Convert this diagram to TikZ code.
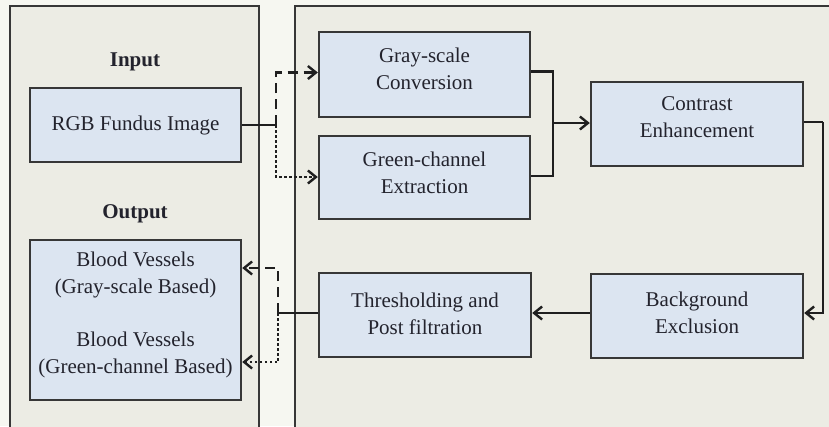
\documentclass[tikz,border=0pt]{standalone}
\usepackage{fontspec}
\setmainfont{Liberation Serif}
\usetikzlibrary{arrows.meta}
\definecolor{pagebg}{RGB}{246,247,241}
\definecolor{panelbg}{RGB}{236,236,228}
\definecolor{boxfill}{RGB}{220,229,241}
\definecolor{boxline}{RGB}{55,55,55}
\definecolor{txt}{RGB}{35,35,45}
\begin{document}
\begin{tikzpicture}[x=1pt,y=-1pt,
  panel/.style={fill=panelbg,draw=boxline,line width=2.2pt},
  box/.style={draw=boxline,fill=boxfill,line width=2.4pt,minimum width=211pt,inner sep=0pt},
  lbl/.style={text=txt,align=center,font=\fontsize{21}{27}\selectfont,inner sep=0pt},
  head/.style={text=txt,font=\fontsize{21}{27}\selectfont\bfseries,inner sep=0pt},
  conn/.style={draw=black!88,line width=2.6pt},
  arr/.style={conn,-{Straight Barb[length=8pt,width=13pt,line width=2.4pt]}},
  dashline/.style={dash pattern=on 10pt off 6pt},
  dotline/.style={dash pattern=on 2.5pt off 2.5pt}
]
\clip (0,0) rectangle (829,426);
\useasboundingbox (0,0) rectangle (829,426);
\fill[pagebg] (0,0) rectangle (829,426);
\draw[panel] (10,6) rectangle (259,440);
\draw[panel] (295,6) rectangle (850,440);

% left panel
\node[head] (inlbl) at (135,62) {Input};
\node[head] (outlbl) at (135,214) {Output};
\node[box,minimum height=74pt] (rgb) at (135.5,125) {};
\node[lbl] (rgbt) at (135.5,125) {RGB Fundus Image};
\node[box,minimum height=160pt] (out) at (135.5,320) {};
\node[lbl] (outt1) at (135.5,275) {Blood Vessels\\(Gray-scale Based)};
\node[lbl] (outt2) at (135.5,355) {Blood Vessels\\(Green-channel Based)};

% right panel
\node[box,minimum height=85pt] (gray) at (424.5,74.5) {};
\node[lbl] (grayt) at (424.5,68.5) {Gray-scale\\Conversion};
\node[box,minimum height=83pt] (green) at (424.5,177.5) {};
\node[lbl] (greent) at (424.5,172.5) {Green-channel\\Extraction};
\node[box,minimum width=212pt,minimum height=84pt] (contrast) at (697,124) {};
\node[lbl] (contrastt) at (697,117.5) {Contrast\\Enhancement};
\node[box,minimum width=212pt,minimum height=84pt] (backg) at (697,316) {};
\node[lbl] (backgt) at (697,313) {Background\\Exclusion};
\node[box,minimum width=212pt,minimum height=84pt] (thresh) at (425,315) {};
\node[lbl] (thresht) at (425,313.5) {Thresholding and\\Post filtration};

% connectors
\coordinate (j1) at (276,125);
\coordinate (m) at (553,123);
\coordinate (r) at (823,122);
\coordinate (j2) at (278,313);
\draw[conn] (rgb.east) -- (j1);
\draw[arr,dashline] (j1) |- ([yshift=2pt]gray.west);
\draw[arr,dotline] (j1) |- ([yshift=0.5pt]green.west);
\draw[conn] ([yshift=3pt]gray.east) -| (m) |- ([yshift=1.5pt]green.east);
\draw[arr] (m) -- (contrast.west |- m);
\draw[conn] (contrast.east |- r) -- (r);
\draw[arr] (r) |- ([yshift=3pt]backg.east);
\draw[arr] ([yshift=3pt]backg.west) -- ([yshift=2pt]thresh.east);
\draw[conn] ([yshift=2pt]thresh.west) -- (j2);
\draw[arr,dashline] (j2) |- ([yshift=52pt]out.east);
\draw[arr,dotline] (j2) |- ([yshift=-42pt]out.east);
\end{tikzpicture}
\end{document}
